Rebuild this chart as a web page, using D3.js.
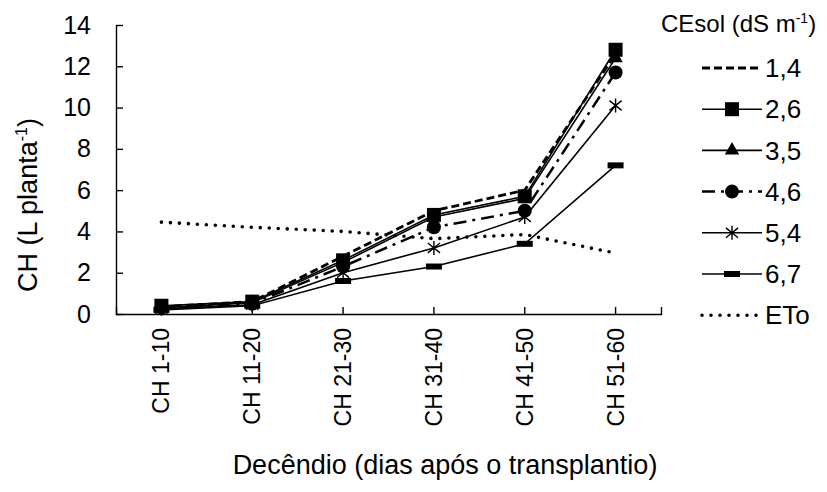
<!DOCTYPE html>
<html>
<head>
<meta charset="utf-8">
<script src="https://cdn.jsdelivr.net/npm/d3@7/dist/d3.min.js"></script>
<style>
  body { margin: 0; background: #fff; }
  svg { font-family: "Liberation Sans", Arial, sans-serif; }
</style>
</head>
<body>
<script>
// categories (decendios) and series
const categories = ['CH 1-10', 'CH 11-20', 'CH 21-30', 'CH 31-40', 'CH 41-50', 'CH 51-60'];
const yTicks = [0, 2, 4, 6, 8, 10, 12, 14];
const ce14 = [0.35, 0.6, 2.8, 5.0, 6.0, 12.6];
const ce26 = [0.4, 0.6, 2.6, 4.8, 5.7, 12.8];
const ce35 = [0.3, 0.55, 2.5, 4.7, 5.6, 12.4];
const ce46 = [0.3, 0.5, 2.3, 4.2, 5.0, 11.7];
const ce54 = [0.25, 0.45, 2.0, 3.2, 4.7, 10.1];
const ce67 = [0.2, 0.4, 1.6, 2.3, 3.4, 7.2];
const eto = [4.45, 4.2, 4.0, 3.65, 3.85, 2.95];
const seriesNames = ['1,4', '2,6', '3,5', '4,6', '5,4', '6,7', 'ETo'];
const seriesValues = [ce14, ce26, ce35, ce46, ce54, ce67, eto];

// line look of every series
const looks = {
  '1,4': { w: 2.8, dash: '8,4', cap: 'butt', marker: null },
  '2,6': { w: 1.6, dash: null, cap: 'butt', marker: 'square' },
  '3,5': { w: 1.6, dash: null, cap: 'butt', marker: 'triangle' },
  '4,6': { w: 2.5, dash: '13,6,3,6', cap: 'butt', marker: 'circle' },
  '5,4': { w: 1.6, dash: null, cap: 'butt', marker: 'star' },
  '6,7': { w: 1.6, dash: null, cap: 'butt', marker: 'dash' },
  'ETo': { w: 3.6, dash: '0,9', cap: 'round', marker: null }
};

let width = 827, height = 492;
let svg = d3.select('body').append('svg').attr('width', width).attr('height', height);

let x = d3.scaleBand().domain(categories).range([116, 661]);
let y = d3.scaleLinear().domain([0, 14]).range([314, 25]);
let px = (i) => x(categories[i]) + x.bandwidth() / 2;

// y axis
let yAxis = svg.append('g').attr('transform', 'translate(116,0)')
  .call(d3.axisLeft(y).tickValues(yTicks).tickSize(-7).tickSizeOuter(0).tickPadding(25));
yAxis.selectAll('text').style('font-size', '25px').attr('fill', '#000');

// x axis
let xAxis = svg.append('g').attr('transform', 'translate(0,314)')
  .call(d3.axisBottom(x).tickSize(-7).tickSizeOuter(-7).tickPadding(0));
xAxis.selectAll('text')
  .style('font-size', '23px').attr('fill', '#000')
  .attr('text-anchor', 'end')
  .attr('transform', 'rotate(-90)')
  .attr('x', -14).attr('y', 0).attr('dy', '0.35em');

svg.selectAll('.domain, .tick line').attr('stroke', '#000').attr('stroke-width', 1.4);

// axis titles
svg.append('text')
  .attr('x', 445).attr('y', 474)
  .attr('text-anchor', 'middle')
  .style('font-size', '27px')
  .text('Decêndio (dias após o transplantio)');

let yt = svg.append('text')
  .attr('transform', 'translate(37,205) rotate(-90)')
  .attr('text-anchor', 'middle')
  .style('font-size', '27px');
yt.append('tspan').text('CH (L planta');
yt.append('tspan').attr('dy', -10).style('font-size', '16px').text('-1');
yt.append('tspan').attr('dy', 10).text(')');

// markers
let drawMarker = (g, type, cx, cy) => {
  if (type === 'square') {
    g.append('rect').attr('x', cx - 7).attr('y', cy - 7).attr('width', 14).attr('height', 14).attr('fill', '#000');
  } else if (type === 'triangle') {
    g.append('path').attr('d', d3.symbol(d3.symbolTriangle, 90)()).attr('transform', `translate(${cx},${cy})`).attr('fill', '#000');
  } else if (type === 'circle') {
    g.append('circle').attr('cx', cx).attr('cy', cy).attr('r', 7).attr('fill', '#000');
  } else if (type === 'star') {
    let r = 7;
    g.append('path')
      .attr('d', `M${cx},${cy - r}V${cy + r}M${cx - r * 0.87},${cy - r * 0.7}L${cx + r * 0.87},${cy + r * 0.7}M${cx - r * 0.87},${cy + r * 0.7}L${cx + r * 0.87},${cy - r * 0.7}`)
      .attr('stroke', '#000').attr('stroke-width', 1.4).attr('fill', 'none');
  } else if (type === 'dash') {
    g.append('rect').attr('x', cx - 8).attr('y', cy - 3).attr('width', 16).attr('height', 6).attr('fill', '#000');
  }
};

// series lines
let line = d3.line().x((d, i) => px(i)).y((d) => y(d));
let plot = svg.append('g');
seriesNames.forEach((name, k) => {
  let lk = looks[name];
  plot.append('path')
    .datum(seriesValues[k])
    .attr('d', line)
    .attr('fill', 'none')
    .attr('stroke', '#000')
    .attr('stroke-width', lk.w)
    .attr('stroke-linecap', lk.cap)
    .attr('stroke-dasharray', lk.dash);
  if (lk.marker) {
    seriesValues[k].forEach((v, i) => drawMarker(plot, lk.marker, px(i), y(v)));
  }
});

// legend
let legend = svg.append('g');
let lt = legend.append('text').attr('x', 661).attr('y', 32).style('font-size', '24px');
lt.append('tspan').text('CEsol (dS m');
lt.append('tspan').attr('dy', -9).style('font-size', '14px').text('-1');
lt.append('tspan').attr('dy', 9).text(')');

seriesNames.forEach((name, k) => {
  let lk = looks[name];
  let ly = 68 + k * 41.2;
  legend.append('line')
    .attr('x1', 702).attr('x2', 762).attr('y1', ly).attr('y2', ly)
    .attr('stroke', '#000')
    .attr('stroke-width', lk.w)
    .attr('stroke-linecap', lk.cap)
    .attr('stroke-dasharray', lk.dash);
  if (lk.marker) drawMarker(legend, lk.marker, 732, ly);
  legend.append('text')
    .attr('x', 765).attr('y', ly).attr('dy', '0.35em')
    .style('font-size', '26px')
    .text(name);
});
</script>
</body>
</html>
